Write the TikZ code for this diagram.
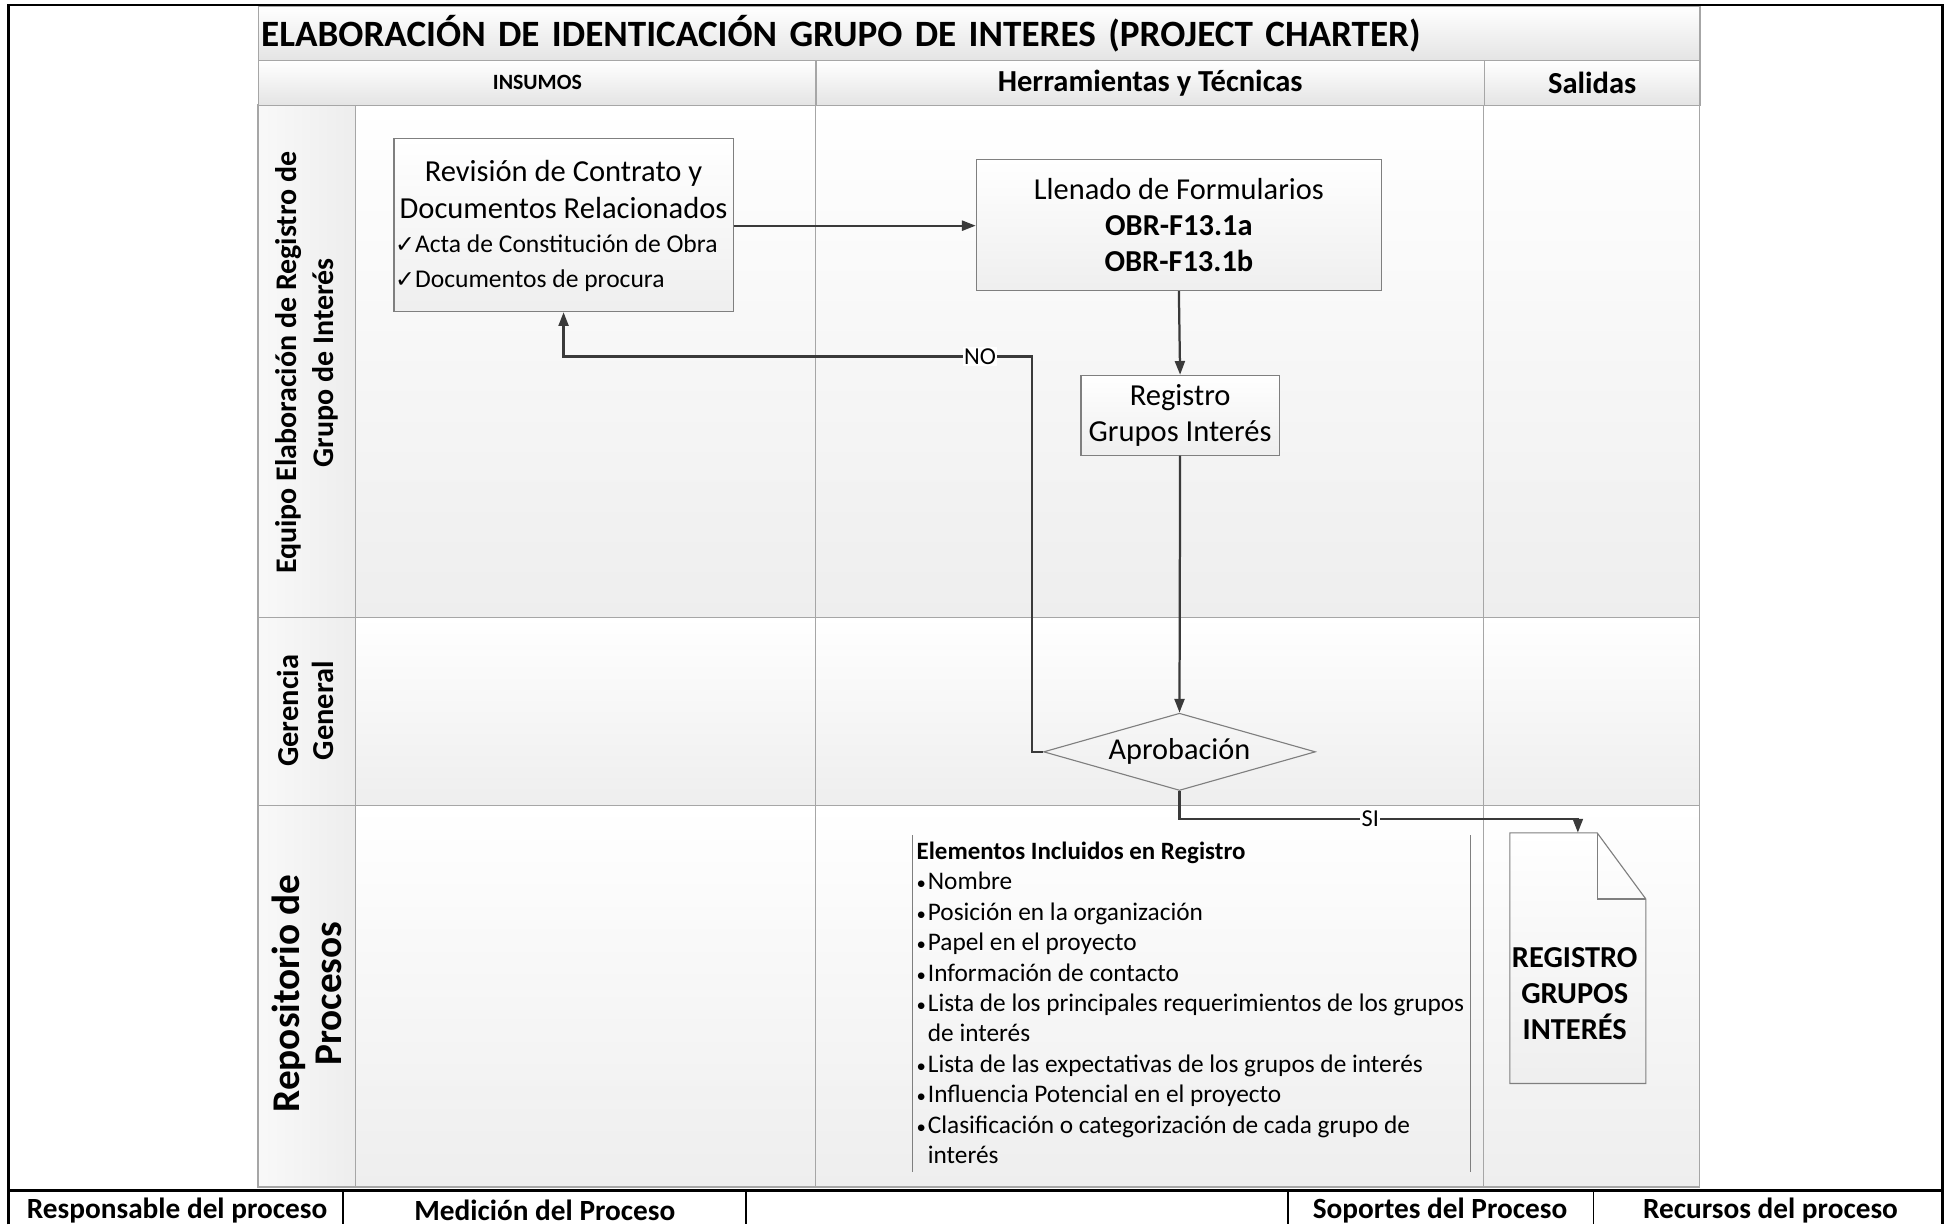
\documentclass[tikz,border=0pt]{standalone}
\usepackage{fontspec}
\setmainfont{Carlito}
\newfontfamily\symf{DejaVu Sans}
\usetikzlibrary{shapes.geometric,arrows.meta,shadings}
\newcommand{\fsz}[2]{\fontsize{#1}{#2}\selectfont}
\newcommand{\chk}{{\symf\fsz{19}{19}✓}}
\newcommand{\bul}{\makebox[9pt][l]{\fsz{15}{15}\textbullet}}
\definecolor{poolline}{HTML}{A6A6A6}
\definecolor{boxline}{HTML}{7F7F7F}
\definecolor{connc}{HTML}{3A3A3A}
\definecolor{hdrbot}{HTML}{E4E4E4}
\definecolor{lanebot}{HTML}{EEEEEE}
\begin{document}
\begin{tikzpicture}[x=1pt,y=-1pt,
  procbox/.style={draw=boxline, line width=0.9pt, top color=white, bottom color=gray!13, inner sep=0pt, align=center},
  conn/.style={draw=connc, line width=1.8pt, -{Triangle[length=11pt,width=8pt]}},
  lbl/.style={fill=white, inner sep=1pt, font=\fsz{19.5}{22}},
  lanefill/.style={top color=white, bottom color=lanebot, draw=none},
  hdr/.style={draw=poolline, line width=1pt, top color=white, bottom color=hdrbot, inner sep=0pt},
  lanelbl/.style={rotate=90, align=center, font=\bfseries\fsz{24}{30}},
  foot/.style={font=\bfseries\fsz{23.5}{26}},
  pool/.style={draw=poolline, line width=1pt},
  frame/.style={draw=black, line width=2pt}]
\useasboundingbox (0,0) rectangle (1568,982);
\fill[white] (0,0) rectangle (1568,982);
% lanes
\shade[lanefill] (285,84) rectangle (1363,495);
\shade[lanefill] (285,495) rectangle (1363,646);
\shade[lanefill] (285,646) rectangle (1363,952);
\shade[left color=gray!5, right color=gray!14] (207,84) rectangle (285,952);
\draw[pool] (207,84) rectangle (1363,952);
\draw[pool] (285,84) -- (285,952);
\draw[pool] (654,84) -- (654,952);
\draw[pool] (1190,84) -- (1190,952);
\draw[pool] (207,495) -- (1363,495);
\draw[pool] (207,646) -- (1363,646);
% title and headers
\node[hdr, anchor=north west, minimum width=1156pt, minimum height=43pt, text width=1152pt, align=left, font=\bfseries\fsz{29.8}{32}] (title) at (207,5) {ELABORACIÓN DE IDENTICACIÓN GRUPO DE INTERES (PROJECT CHARTER)};
\node[hdr, anchor=north west, minimum width=447pt, minimum height=36pt, font=\bfseries\fsz{17.5}{20}] (hin) at (207,48) {INSUMOS};
\node[hdr, anchor=north west, minimum width=536pt, minimum height=36pt, font=\bfseries\fsz{24.5}{26}] (hht) at (654,48) {Herramientas y Técnicas};
\node[hdr, anchor=north west, minimum width=173pt, minimum height=36pt, font=\bfseries\fsz{24.5}{26}] (hsal) at (1190,48) {Salidas};
% lane labels
\node[lanelbl] (l1) at (246,291) {Equipo Elaboración de Registro de\\Grupo de Interés};
\node[lanelbl, font=\bfseries\fsz{24.4}{28}] (l2) at (245,570) {Gerencia\\General};
\node[lanelbl, font=\bfseries\fsz{31.5}{34}] (l3) at (246,797) {Repositorio de\\Procesos};
% process nodes
\node[procbox, minimum width=272pt, minimum height=139pt] (rev) at (452,180.5)
  {\begin{minipage}{270pt}\vspace*{2pt}\centering\fsz{24.5}{29}Revisión de Contrato y\\ Documentos Relacionados\par
   \raggedright\fsz{20.5}{28}\chk Acta de Constitución de Obra\\ \chk Documentos de procura\end{minipage}};
\node[procbox, minimum width=325pt, minimum height=105pt, font=\fsz{24.4}{29}] (llen) at (945.5,180.5)
  {Llenado de Formularios\\ \textbf{OBR-F13.1a}\\ \textbf{OBR-F13.1b}};
\node[procbox, minimum width=159pt, minimum height=64pt, font=\fsz{24.5}{29}] (reg) at (946.5,333)
  {Registro\\ Grupos Interés};
\node[diamond, draw=boxline, line width=0.9pt, minimum width=218pt, minimum height=62pt, aspect=4, inner sep=0pt, font=\fsz{24.3}{26}] (apr) at (946,603) {Aprobación};
% document
\shadedraw[draw=boxline, line width=0.9pt, top color=white, bottom color=gray!13] (1211,668) -- (1281,668) -- (1320,721) -- (1320,869) -- (1211,869) -- cycle;
\draw[boxline, line width=0.9pt] (1281,668) -- (1281,721) -- (1320,721);
\node[minimum width=109pt, minimum height=201pt, inner sep=0pt] (doc) at (1265.5,768.5) {};
\node[align=center, font=\bfseries\fsz{24.4}{29}] (doctxt) at (1263,797) {REGISTRO\\GRUPOS\\INTERÉS};
% elements list
\draw[boxline, line width=0.8pt] (732,670) -- (732,940);
\draw[boxline, line width=0.8pt] (1179,670) -- (1179,940);
\node[anchor=north west, inner sep=0pt, align=left, font=\fsz{20.3}{24.4}] (elem) at (735,675)
 {{\bfseries\fsz{20}{24.4}Elementos Incluidos en Registro}\\
  \bul Nombre\\
  \bul Posición en la organización\\
  \bul Papel en el proyecto\\
  \bul Información de contacto\\
  \bul Lista de los principales requerimientos de los grupos\\
  \hspace*{9pt}de interés\\
  \bul Lista de las expectativas de los grupos de interés\\
  \bul Influencia Potencial en el proyecto\\
  \bul Clasificación o categorización de cada grupo de\\
  \hspace*{9pt}interés};
% connectors
\draw[conn] (rev.east |- 0,181) -- (llen.west |- 0,181);
\draw[conn] (llen.south) -- (reg.north);
\draw[conn] (reg.south) -- (apr.north);
\coordinate (nocorner) at (828,286);
\draw[conn] (apr.west) -| (nocorner) -| (rev.south);
\node[lbl] (nolbl) at (786,286) {NO};
\coordinate (sicorner) at (946,657);
\draw[conn] (apr.south) -- (sicorner) -| (doc.north);
\node[lbl] (silbl) at (1099,657) {SI};
% frame and footer
\draw[frame] (7,982) -- (7,4) -- (1558,4) -- (1558,982);
\draw[frame] (7,955) -- (1558,955);
\draw[black, line width=1.5pt] (275,955) -- (275,982);
\draw[black, line width=1.5pt] (598,955) -- (598,982);
\draw[black, line width=1.5pt] (1033,955) -- (1033,982);
\draw[black, line width=1.5pt] (1278,955) -- (1278,982);
\node[foot] (f1) at (142,971) {Responsable del proceso};
\node[foot] (f2) at (437,971) {Medición del Proceso};
\node[foot] (f3) at (1155,971) {Soportes del Proceso};
\node[foot] (f4) at (1420,971) {Recursos del proceso};
\end{tikzpicture}
\end{document}
